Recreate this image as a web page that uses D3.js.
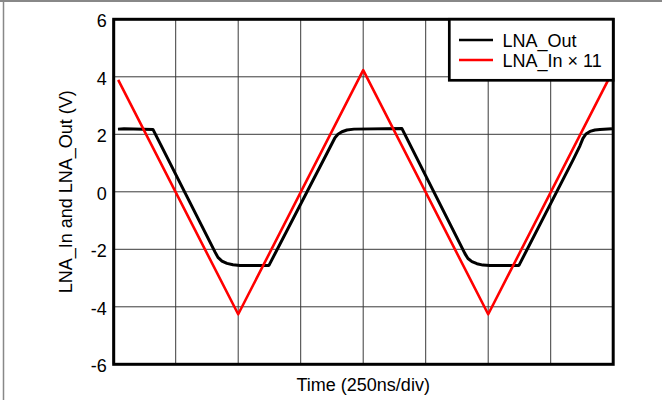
<!DOCTYPE html>
<html>
<head>
<meta charset="utf-8">
<script src="https://cdn.jsdelivr.net/npm/d3@7"></script>
<style>
html,body{margin:0;padding:0;background:#fff;}
svg{display:block;}
text{font-family:"Liberation Sans",Arial,sans-serif;fill:#000;}
</style>
</head>
<body>
<svg id="chart" width="662" height="400"></svg>
<script>
// ---- data ----
const yTicks = [-6, -4, -2, 0, 2, 4, 6];
const xGridNs = [0, 250, 500, 750, 1000, 1250, 1500, 1750, 2000];

// LNA_In x 11 (red), time in ns, volts
const inTime  = [20, 500, 1000, 1500, 1990];
const inValue = [3.89, -4.26, 4.23, -4.26, 4.06];

// LNA_Out (black), time in ns, volts
const outTime  = [19, 43, 159, 407, 419, 435, 455, 479, 507, 623, 851, 887, 899, 915, 935, 963,
                  1155, 1407, 1419, 1435, 1455, 1479, 1507, 1623, 1839, 1867, 1879, 1891, 1907, 1927, 1947, 1995];
const outValue = [2.18, 2.19, 2.17, -2.09, -2.28, -2.41, -2.49, -2.54, -2.56, -2.56, 1.27, 1.88, 2.00, 2.09, 2.15, 2.18,
                  2.20, -2.15, -2.32, -2.43, -2.50, -2.55, -2.56, -2.56, 1.10, 1.60, 1.86, 2.01, 2.10, 2.15, 2.17, 2.19];

const seriesNames = ["LNA_Out", "LNA_In \u00d7 11"];
const seriesColors = ["#000000", "#ff0000"];
const xLabel = "Time (250ns/div)";
const yLabel = "LNA_In and LNA_Out (V)";

// ---- layout ----
const svg = d3.select("#chart");
const L = 113.2, R = 613.2, T = 19.3, B = 364.3;
const x = d3.scaleLinear().domain([0, 2000]).range([L, R]);
const y = d3.scaleLinear().domain([-6, 6]).range([B, T]);

// outer gray frame (top and left edges)
svg.append("line").attr("x1", 0).attr("x2", 662).attr("y1", 1).attr("y2", 1)
  .attr("stroke", "#888").attr("stroke-width", 2);
svg.append("line").attr("x1", 3.5).attr("x2", 3.5).attr("y1", 0).attr("y2", 400)
  .attr("stroke", "#888").attr("stroke-width", 1.5);

// grid
const g = svg.append("g");
g.selectAll("line.vg").data(xGridNs).join("line")
  .attr("x1", d => x(d)).attr("x2", d => x(d)).attr("y1", T).attr("y2", B)
  .attr("stroke", "#3a3a3a").attr("stroke-width", 1);
g.selectAll("line.hg").data(yTicks).join("line")
  .attr("x1", L).attr("x2", R).attr("y1", d => y(d)).attr("y2", d => y(d))
  .attr("stroke", "#3a3a3a").attr("stroke-width", 1);

// y axis tick labels via d3 axis
const yAxis = d3.axisLeft(y).tickValues(yTicks).tickSize(0).tickPadding(0).tickFormat(d => String(d));
const ya = svg.append("g").attr("transform", `translate(${L - 6.5},0)`).call(yAxis);
ya.select(".domain").remove();
ya.selectAll("text").attr("font-size", 18).attr("font-family", "Liberation Sans, Arial, sans-serif")
  .attr("fill", "#000").attr("dy", "0.41em").attr("x", 0);

// clip
svg.append("clipPath").attr("id", "clip").append("rect")
  .attr("x", L).attr("y", T).attr("width", R - L).attr("height", B - T);

const line = d3.line().x(d => x(d[0])).y(d => y(d[1]));
const outData = outTime.map((t, i) => [t, outValue[i]]);
const inData = inTime.map((t, i) => [t, inValue[i]]);

svg.append("path").datum(outData).attr("d", line).attr("clip-path", "url(#clip)")
  .attr("fill", "none").attr("stroke", seriesColors[0]).attr("stroke-width", 3)
  .attr("stroke-linejoin", "round");
svg.append("path").datum(inData).attr("d", line).attr("clip-path", "url(#clip)")
  .attr("fill", "none").attr("stroke", seriesColors[1]).attr("stroke-width", 2.6)
  .attr("stroke-linejoin", "round");

// plot frame
svg.append("rect").attr("x", L + 0.5).attr("y", T).attr("width", R - L - 0.5).attr("height", B - T)
  .attr("fill", "none").attr("stroke", "#000").attr("stroke-width", 3);

// legend
const lg = svg.append("g");
lg.append("rect").attr("x", 449.3).attr("y", T).attr("width", R - 449.3).attr("height", 80.3 - T)
  .attr("fill", "#fff").attr("stroke", "#000").attr("stroke-width", 2.7);
seriesNames.forEach((name, i) => {
  const yy = 40 + i * 20;
  lg.append("line").attr("x1", 459).attr("x2", 493).attr("y1", yy).attr("y2", yy)
    .attr("stroke", seriesColors[i]).attr("stroke-width", 2.7);
  lg.append("text").attr("x", 502.5).attr("y", yy).attr("dy", "0.37em")
    .attr("font-size", 18).text(name);
});

// axis titles
svg.append("text").attr("x", (L + R) / 2).attr("y", 390.5).attr("text-anchor", "middle")
  .attr("font-size", 18).text(xLabel);
svg.append("text").attr("transform", `translate(71.5,${(T + B) / 2}) rotate(-90)`)
  .attr("text-anchor", "middle").attr("font-size", 18).text(yLabel);
</script>
</body>
</html>
